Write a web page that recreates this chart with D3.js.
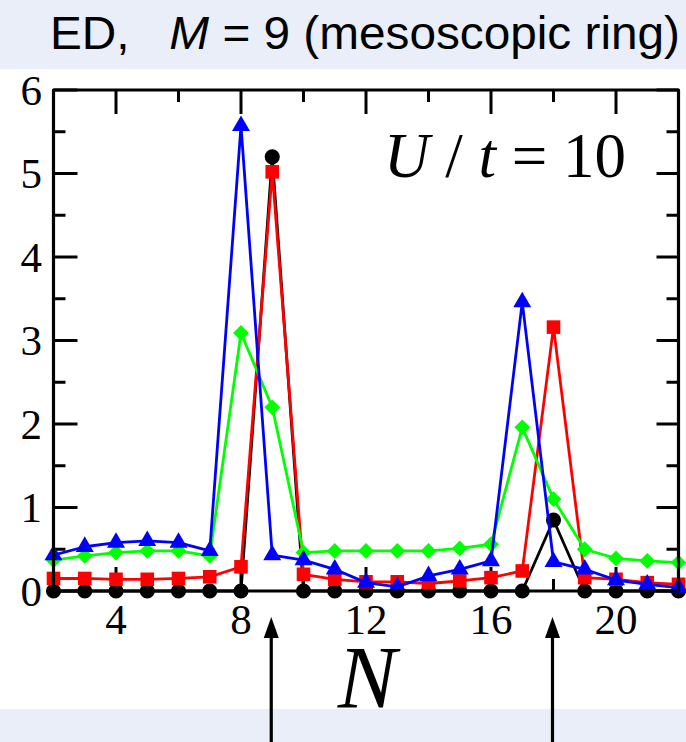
<!DOCTYPE html>
<html>
<head>
<meta charset="utf-8">
<script src="https://cdn.jsdelivr.net/npm/d3@7"></script>
<style>
  html, body { margin: 0; padding: 0; background: #fff; }
  svg { display: block; }
</style>
</head>
<body>
<svg id="chart" width="686" height="742"></svg>
<script>
// Particle number N on the ring
const nValues = [2, 3, 4, 5, 6, 7, 8, 9, 10, 11, 12, 13, 14, 15, 16, 17, 18, 19, 20, 21, 22];

// Four response curves versus N
const blackSeries = [0, 0, 0, 0, 0, 0, 0, 5.2, 0, 0, 0, 0, 0, 0, 0, 0, 0.85, 0, 0, 0, 0];
const redSeries   = [0.15, 0.15, 0.14, 0.14, 0.15, 0.17, 0.29, 5.02, 0.2, 0.14, 0.11, 0.11, 0.09, 0.12, 0.16, 0.24, 3.16, 0.16, 0.14, 0.1, 0.08];
const greenSeries = [0.37, 0.42, 0.46, 0.48, 0.48, 0.42, 3.09, 2.2, 0.46, 0.48, 0.48, 0.48, 0.48, 0.51, 0.56, 1.96, 1.1, 0.5, 0.39, 0.36, 0.34];
const blueSeries  = [0.43, 0.53, 0.58, 0.6, 0.58, 0.48, 5.57, 0.43, 0.37, 0.26, 0.1, 0.05, 0.18, 0.26, 0.36, 3.46, 0.35, 0.26, 0.13, 0.08, 0.04];

// Axis ticks and labels
const xMajorTicks = [4, 8, 12, 16, 20];
const xMinorTicks = [2, 6, 10, 14, 18, 22];
const yMajorTicks = [0, 1, 2, 3, 4, 5, 6];
const yMinorTicks = [0.5, 1.5, 2.5, 3.5, 4.5, 5.5];
const arrowAt = [9, 18];

const svg = d3.select("#chart");
const W = 686, H = 742;
const plotL = 53.5, plotR = 678.5, plotT = 90, plotB = 591;

const x = d3.scaleLinear().domain([2, 22]).range([plotL, plotR]);
const y = d3.scaleLinear().domain([0, 6]).range([plotB, plotT]);

// light header and footer bands
svg.append("rect").attr("x", 0).attr("y", 0).attr("width", W).attr("height", 69).attr("fill", "#e9eef8");
svg.append("rect").attr("x", 0).attr("y", 709).attr("width", W).attr("height", H - 709).attr("fill", "#e9eef8");

// title
const title = svg.append("text")
  .attr("x", 50).attr("y", 49)
  .attr("font-family", "'Liberation Sans', Arial, sans-serif")
  .attr("font-size", 46)
  .attr("fill", "#000")
  .attr("textLength", 630)
  .attr("lengthAdjust", "spacingAndGlyphs");
title.append("tspan").text("ED,\u00a0\u00a0\u00a0");
title.append("tspan").attr("font-style", "italic").text("M");
title.append("tspan").text(" = 9 (mesoscopic ring)");

const serif = "'Liberation Serif', 'Times New Roman', serif";

// ticks on all four sides, pointing inward
const tickG = svg.append("g").attr("stroke", "#000").attr("stroke-width", 3);
xMajorTicks.forEach(v => {
  tickG.append("line").attr("x1", x(v)).attr("x2", x(v)).attr("y1", plotB).attr("y2", plotB - 24);
  tickG.append("line").attr("x1", x(v)).attr("x2", x(v)).attr("y1", plotT).attr("y2", plotT + 24);
});
xMinorTicks.forEach(v => {
  tickG.append("line").attr("x1", x(v)).attr("x2", x(v)).attr("y1", plotB).attr("y2", plotB - 12);
  tickG.append("line").attr("x1", x(v)).attr("x2", x(v)).attr("y1", plotT).attr("y2", plotT + 12);
});
yMajorTicks.forEach(v => {
  tickG.append("line").attr("x1", plotL).attr("x2", plotL + 24).attr("y1", y(v)).attr("y2", y(v));
  tickG.append("line").attr("x1", plotR).attr("x2", plotR - 22).attr("y1", y(v)).attr("y2", y(v));
});
yMinorTicks.forEach(v => {
  tickG.append("line").attr("x1", plotL).attr("x2", plotL + 12).attr("y1", y(v)).attr("y2", y(v));
  tickG.append("line").attr("x1", plotR).attr("x2", plotR - 12).attr("y1", y(v)).attr("y2", y(v));
});

// tick labels
svg.append("g").selectAll("text").data(yMajorTicks).join("text")
  .attr("x", 42).attr("y", d => y(d))
  .attr("dy", "0.34em")
  .attr("text-anchor", "end")
  .attr("font-family", serif).attr("font-size", 43)
  .text(d => d);
svg.append("g").selectAll("text").data(xMajorTicks).join("text")
  .attr("x", d => x(d)).attr("y", 634)
  .attr("text-anchor", "middle")
  .attr("font-family", serif).attr("font-size", 43)
  .text(d => d);

// axis title
svg.append("text")
  .attr("x", 367).attr("y", 707)
  .attr("text-anchor", "middle")
  .attr("font-family", serif).attr("font-style", "italic").attr("font-size", 88)
  .text("N");

// in-panel annotation
const ann = svg.append("text")
  .attr("x", 384).attr("y", 177)
  .attr("font-family", serif).attr("font-size", 63);
ann.append("tspan").attr("font-style", "italic").text("U");
ann.append("tspan").text(" / ");
ann.append("tspan").attr("font-style", "italic").text("t");
ann.append("tspan").text(" = 10");

// data curves
const pts = vals => nValues.map((n, i) => [n, vals[i]]);
const line = d3.line().x(d => x(d[0])).y(d => y(d[1]));

const series = [
  { vals: blackSeries, color: "#000000", shape: d3.symbolCircle, size: 180, rot: 0 },
  { vals: redSeries,   color: "#ff0000", shape: d3.symbolSquare, size: 185, rot: 0 },
  { vals: greenSeries, color: "#00ff00", shape: d3.symbolSquare, size: 125, rot: 45 },
  { vals: blueSeries,  color: "#0000ff", shape: d3.symbolTriangle, size: 140, rot: 0 }
];

series.forEach(s => {
  const g = svg.append("g");
  g.append("path")
    .attr("d", line(pts(s.vals)))
    .attr("fill", "none")
    .attr("stroke", s.color)
    .attr("stroke-width", 2.8)
    .attr("stroke-linejoin", "round");
  g.selectAll("path.m").data(pts(s.vals)).join("path")
    .attr("class", "m")
    .attr("d", d3.symbol().type(s.shape).size(s.size))
    .attr("transform", d => `translate(${x(d[0])},${y(d[1])}) rotate(${s.rot})`)
    .attr("fill", s.color);
});

// frame
svg.append("rect")
  .attr("x", plotL).attr("y", plotT)
  .attr("width", plotR - plotL).attr("height", plotB - plotT)
  .attr("fill", "none").attr("stroke", "#000").attr("stroke-width", 3.2)
  .attr("stroke-linejoin", "round");

// arrows marking N = M and N = 2M
arrowAt.forEach(n => {
  const ax = x(n) - 1;
  svg.append("line")
    .attr("x1", ax).attr("x2", ax).attr("y1", H).attr("y2", 634)
    .attr("stroke", "#000").attr("stroke-width", 3.2);
  svg.append("path")
    .attr("d", `M${ax},617 L${ax - 7.5},638 L${ax + 7.5},638 Z`)
    .attr("fill", "#000");
});
</script>
</body>
</html>
